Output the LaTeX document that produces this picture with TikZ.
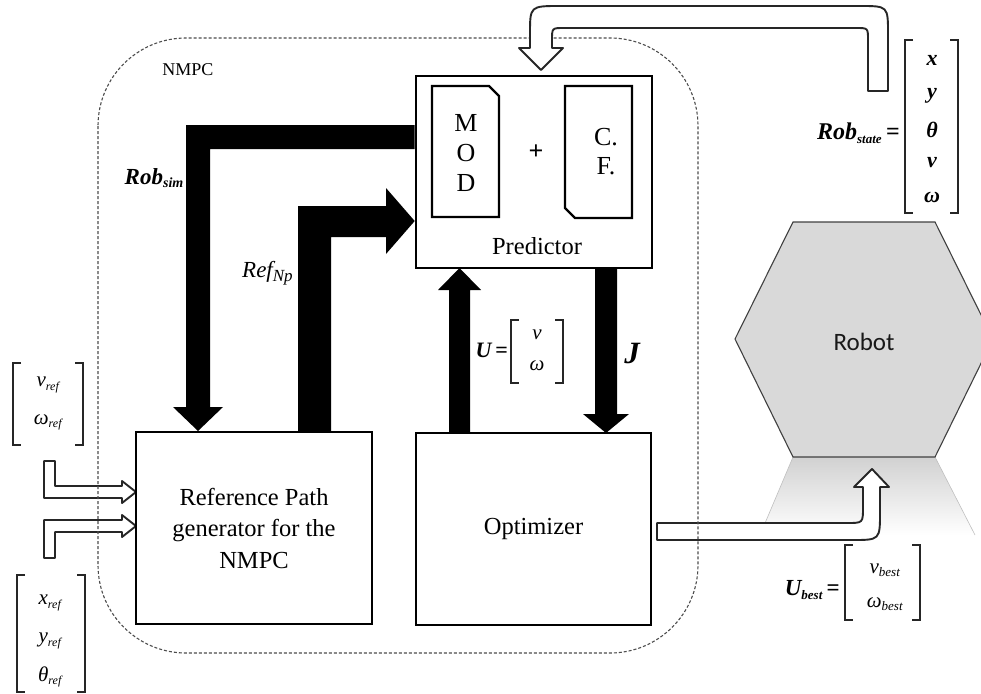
\documentclass[tikz,border=0pt]{standalone}
\usepackage{fontspec}
\setmainfont{Liberation Serif}
\newfontfamily\robotfont{Carlito}
\usetikzlibrary{calc}
\newcommand\mybrk[4]{%
  \draw[bracket] (#1+8,#3) -- (#1,#3) -- (#1,#4) -- (#1+8,#4);
  \draw[bracket] (#2-8,#3) -- (#2,#3) -- (#2,#4) -- (#2-8,#4);}
\begin{document}
\begin{tikzpicture}[x=1pt,y=-1pt,
  box/.style={draw, line width=2.6pt, inner sep=0pt, align=center,
    font=\fontsize{24.5}{31.5}\selectfont},
  sub/.style={draw, line width=2.4pt, line join=miter},
  thick/.style={fill=black, draw=none},
  hollow/.style={fill=white, draw=black!85, line width=1.9pt, line join=round},
  nmpcline/.style={draw=black!70, line width=1.1pt, dash pattern=on 3pt off 2pt},
  bracket/.style={draw=black!85, line width=1.1pt},
  var/.style={font=\fontsize{21}{23}\selectfont\itshape, inner sep=0pt},
  lbl/.style={font=\fontsize{23}{25}\selectfont\itshape, inner sep=0pt},
  txt/.style={font=\fontsize{26}{28}\selectfont, inner sep=0pt}]
\useasboundingbox (0,0) rectangle (981,693);

% robot reflection and hexagon
\shade[top color=black!18, bottom color=white] (793,457) -- (935,457) -- (975,535) -- (760,535) -- cycle;
\draw[black!25, line width=0.6pt] (793,457) -- (760,535) (935,457) -- (975,535);
\draw[fill=black!15, draw=black!75, line width=1.1pt, line join=miter]
  (735,339) -- (793,222) -- (935,222) -- (993,339) -- (935,457) -- (793,457) -- cycle;
\node[font=\robotfont\fontsize{25}{28}\selectfont, text=black!90] (robot) at (864,342) {Robot};

% left input hollow arrows
\draw[hollow] (44,461) -- (55,461) -- (55,486) -- (122,486) -- (122,481) -- (136,492) -- (122,503) -- (122,498) -- (44,498) -- cycle;
\draw[hollow] (44,558) -- (55,558) -- (55,532) -- (122,532) -- (122,537) -- (136,526) -- (122,515) -- (122,520) -- (44,520) -- cycle;

% optimizer output hollow arrow
\draw[hollow] (657,523) -- (847,523) .. controls (863,523) .. (863,507) -- (863,487) -- (854,487) -- (872,469) -- (889,487) -- (880,487) -- (880,512) .. controls (880,540) .. (852,540) -- (657,540) -- cycle;

% NMPC dashed frame
\draw[nmpcline, rounded corners=88pt] (98,38) rectangle (698,653);
\node[txt, font=\fontsize{18}{20}\selectfont] (nmpc) at (188,70) {NMPC};

% feedback hollow arrow from the robot state
\draw[hollow] (888,91) -- (888,34) .. controls (888,6) .. (860,6) -- (560,6) .. controls (530,6) .. (530,34) -- (530,48) -- (519,48) -- (541,70) -- (563,48) -- (552,48) -- (552,40) .. controls (552,28) .. (564,28) -- (856,28) .. controls (868,28) .. (868,40) -- (868,91) -- cycle;

% main boxes
\node[box, minimum width=236pt, minimum height=192pt] (pred) at (534,172) {};
\node[box, minimum width=236pt, minimum height=192pt] (ref) at (254,528) {Reference Path\\generator for the\\NMPC};
\node[box, minimum width=235pt, minimum height=192pt] (opt) at (533.5,529) {Optimizer};

% MOD and C.F. inside the predictor
\draw[sub] (432,86) -- (489,86) -- (499,96) -- (499,217) -- (432,217) -- cycle;
\draw[sub] (565,86) -- (632,86) -- (632,218) -- (575,218) -- (565,208) -- cycle;
\node[txt] (m) at (466,123) {M};
\node[txt] (o) at (466,153) {O};
\node[txt] (d) at (466,183) {D};
\node[txt, font=\fontsize{26}{28}\selectfont\bfseries] (plus) at (536,152) {+};
\node[txt] (c) at (606,137) {C.};
\node[txt] (f) at (606,166) {F.};
\node[txt, font=\fontsize{24.5}{28}\selectfont] (predlbl) at (537,246) {Predictor};

% thick black arrows
\fill[thick] (pred.west |- 0,125) -- (186,125) -- (186,407) -- (173,407) -- (198,431) -- (223,407) -- (210,407) -- (210,149) -- (pred.west |- 0,149) -- cycle;
\fill[thick] (298,431) -- (298,206) -- (386,206) -- (386,188) -- (pred.west |- 0,221) -- (386,254) -- (386,237) -- (331,237) -- (331,431) -- cycle;
\fill[thick] (449,433) -- (449,290) -- (438,290) -- (459.5,268) -- (481,290) -- (470,290) -- (470,433) -- cycle;
\fill[thick] (595,268) -- (595,414) -- (583,414) -- (606,433) -- (629,414) -- (617,414) -- (617,268) -- cycle;

% arrow labels
\node[lbl, font=\fontsize{23}{25}\selectfont\bfseries\itshape, anchor=east] (robsim) at (184,178) {Rob\textsubscript{\fontsize{14}{14}\selectfont sim}};
\node[lbl, anchor=west] (refnp) at (242,273) {Ref\textsubscript{\fontsize{17}{17}\selectfont Np}};
\node[lbl, font=\fontsize{31}{33}\selectfont\bfseries\itshape] (J) at (632,353) {J};

% U = [v; omega]
\node[lbl, font=\fontsize{22}{24}\selectfont\bfseries\itshape, anchor=east] (U) at (508,350) {U\,\upshape=};
\mybrk{511}{563}{320}{383}
\node[var] (uv) at (537,335) {v};
\node[var] (uw) at (537,366) {ω};

% Rob_state
\node[lbl, font=\fontsize{24}{26}\selectfont\bfseries\itshape, anchor=east] (robstate) at (900,133) {Rob\textsubscript{\fontsize{13}{13}\selectfont state}\,\upshape=};
\mybrk{905}{958}{40}{213}
\node[var, font=\fontsize{22}{24}\selectfont\bfseries\itshape] (sx) at (932,60) {x};
\node[var, font=\fontsize{22}{24}\selectfont\bfseries\itshape] (sy) at (932,96) {y};
\node[var, font=\fontsize{22}{24}\selectfont\bfseries\itshape] (st) at (932,130) {θ};
\node[var, font=\fontsize{22}{24}\selectfont\bfseries\itshape] (sv) at (932,163) {v};
\node[var, font=\fontsize{22}{24}\selectfont\bfseries\itshape] (sw) at (932,197) {ω};

% v_ref, omega_ref
\mybrk{13}{83}{363}{445}
\node[var] (vref) at (48,385) {v\textsubscript{\fontsize{12}{12}\selectfont ref}};
\node[var] (wref) at (48,422) {ω\textsubscript{\fontsize{12}{12}\selectfont ref}};

% x_ref, y_ref, theta_ref
\mybrk{17}{85}{575}{692}
\node[var] (xref) at (50,603) {x\textsubscript{\fontsize{12}{12}\selectfont ref}};
\node[var] (yref) at (50,641) {y\textsubscript{\fontsize{12}{12}\selectfont ref}};
\node[var] (tref) at (50,677) {θ\textsubscript{\fontsize{12}{12}\selectfont ref}};

% U_best
\node[lbl, font=\fontsize{23}{25}\selectfont\bfseries\itshape, anchor=east] (ubest) at (840,590) {U\textsubscript{\fontsize{13}{13}\selectfont best}\,\upshape=};
\mybrk{845}{920}{545}{620}
\node[var] (vbest) at (885,570) {v\textsubscript{\fontsize{13}{13}\selectfont best}};
\node[var] (wbest) at (885,604) {ω\textsubscript{\fontsize{13}{13}\selectfont best}};
\end{tikzpicture}
\end{document}
